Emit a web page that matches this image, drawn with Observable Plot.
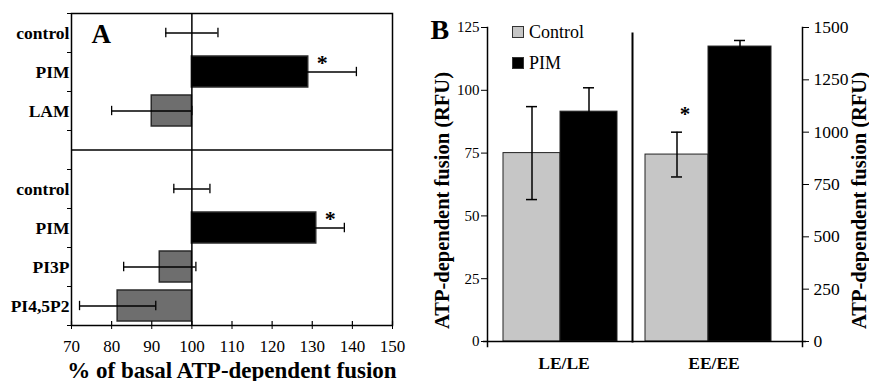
<!DOCTYPE html>
<html><head><meta charset="utf-8">
<script src="https://cdn.jsdelivr.net/npm/d3@7"></script>
<script src="https://cdn.jsdelivr.net/npm/@observablehq/plot@0.6"></script>
<style>
html,body{margin:0;padding:0;background:#fff;}
#root{position:relative;width:869px;height:381px;overflow:hidden;font-family:"Liberation Serif","Times New Roman",Times,"DejaVu Serif",serif;}
#root svg{position:absolute;top:0;}
#root svg text{font-family:"Liberation Serif","Times New Roman",Times,"DejaVu Serif",serif;}
.leg{position:absolute;font-size:18px;line-height:18px;display:flex;align-items:center;color:#000;}
.sw{width:12px;height:12px;border:1px solid #333;margin-right:5px;box-sizing:border-box;}
</style></head><body><div id="root"></div>
<script>
// ---------- Panel A data ----------
const labelsTop = ["control", "PIM", "LAM"];
const valuesTop = [100, 129, 90];
const errorsTop = [6.5, 12, 10];
const starsTop = [false, true, false];
const labelsBottom = ["control", "PIM", "PI3P", "PI4,5P2"];
const valuesBottom = [100, 131, 92, 81.5];
const errorsBottom = [4.5, 7, 9, 9.5];
const starsBottom = [false, true, false, false];
const xTicksA = [70, 80, 90, 100, 110, 120, 130, 140, 150];
const baselineA = 100;
const xTitleA = "% of basal ATP-dependent fusion";
const panelLabelA = "A";

// ---------- Panel B data ----------
const seriesB = ["Control", "PIM"];
const groupsB = ["LE/LE", "EE/EE"];
const leValues = [75, 91.5];
const leErrors = [18.5, 9.5];
const eeValues = [893, 1409];
const eeErrors = [107, 29];
const eeStars = [true, false];
const yTicksLeft = [0, 25, 50, 75, 100, 125];
const yTicksRight = [0, 250, 500, 750, 1000, 1250, 1500];
const yTitleB = "ATP-dependent fusion (RFU)";
const panelLabelB = "B";

const FONT = '"Liberation Serif", "Times New Roman", Times, "DejaVu Serif", serif';
const baseStyle = {fontFamily: FONT, fontSize: "17px", background: "transparent", color: "#000", maxWidth: "none", overflow: "visible"};
const root = document.getElementById("root");
const fmt = d => String(d);

// ---------- Panel A ----------
const gapSlots = 1;
const rowsA = [
  ...labelsTop.map((label, i) => ({label, value: valuesTop[i], err: errorsTop[i], star: starsTop[i], slot: i})),
  ...labelsBottom.map((label, i) => ({label, value: valuesBottom[i], err: errorsBottom[i], star: starsBottom[i], slot: labelsTop.length + gapSlots + i}))
];
const nSlots = labelsTop.length + gapSlots + labelsBottom.length;
const dividerSlot = labelsTop.length + gapSlots / 2;
const labelBySlot = new Map(rowsA.map(d => [d.slot + 0.5, d.label]));
const capsA = rowsA.flatMap(d => [{x: d.value - d.err, slot: d.slot}, {x: d.value + d.err, slot: d.slot}]);
const fillA = d => d.label === "PIM" ? "#000" : "#6e6e6e";

const plotA = Plot.plot({
  width: 440, height: 381,
  marginLeft: 71, marginRight: 48, marginTop: 13, marginBottom: 56,
  style: baseStyle,
  x: {domain: [70, 150]},
  y: {domain: [0, nSlots], reverse: true},
  marks: [
    Plot.rectX(rowsA.filter(d => d.value !== baselineA), {x1: baselineA, x2: "value", y1: "slot", y2: d => d.slot + 1, insetTop: 4, insetBottom: 4, fill: fillA, stroke: "#2a2a2a", strokeWidth: 1.5}),
    Plot.ruleY(rowsA, {y: d => d.slot + 0.5, x1: d => d.value - d.err, x2: d => d.value + d.err, stroke: "#000", strokeWidth: 1.3}),
    Plot.ruleX(capsA, {x: "x", y1: d => d.slot + 0.5 - 0.12, y2: d => d.slot + 0.5 + 0.12, stroke: "#000", strokeWidth: 1.3}),
    Plot.ruleX([baselineA], {stroke: "#000", strokeWidth: 1.5}),
    Plot.ruleY([dividerSlot], {stroke: "#000", strokeWidth: 1.5}),
    Plot.frame({stroke: "#000", strokeWidth: 1.5}),
    Plot.axisX({ticks: xTicksA, tickSize: 4, tickPadding: 10, tickFormat: fmt, fontSize: 17, label: null}),
    Plot.ruleX(xTicksA, {y1: nSlots, y2: nSlots - 0.1, stroke: "#000", strokeWidth: 1.2}),
    Plot.axisY({ticks: d3.range(0, nSlots + 1), tickSize: 4, tickFormat: () => "", label: null}),
    Plot.axisY({ticks: rowsA.map(d => d.slot + 0.5), tickSize: 0, tickPadding: 2, tickFormat: v => labelBySlot.get(v), fontWeight: "bold", fontSize: 17.5, label: null}),
    Plot.text(rowsA.filter(d => d.star), {x: "value", y: d => d.slot + 0.5, text: () => "*", dx: 14, dy: -2, lineAnchor: "bottom", fontSize: 22, fontWeight: "bold"}),
    Plot.text([panelLabelA], {frameAnchor: "top-left", dx: 20, dy: 29, lineAnchor: "bottom", textAnchor: "start", fontSize: 27, fontWeight: "bold"}),
    Plot.text([xTitleA], {frameAnchor: "bottom", dy: 52, lineAnchor: "bottom", textAnchor: "middle", fontSize: 23, fontWeight: "bold"})
  ]
});
plotA.style.left = "0px";
root.appendChild(plotA);

// ---------- Panel B ----------
const fillB = d => d.series === "PIM" ? "#000" : "#c6c6c6";
const rowsLE = seriesB.map((s, i) => ({series: s, value: leValues[i], err: leErrors[i]}));
const rowsEE = seriesB.map((s, i) => ({series: s, value: eeValues[i], err: eeErrors[i], star: eeStars[i]}));
const capsOf = rows => rows.flatMap(d => [{series: d.series, y: d.value - d.err}, {series: d.series, y: d.value + d.err}]);

const plotBL = Plot.plot({
  width: 205, height: 381,
  marginLeft: 57, marginRight: 3, marginTop: 27, marginBottom: 40,
  style: baseStyle,
  x: {domain: seriesB, range: [72, 187], padding: 0, axis: null},
  y: {domain: [0, 125]},
  marks: [
    Plot.barY(rowsLE, {x: "series", y: "value", fill: fillB, stroke: "#222", strokeWidth: 1}),
    Plot.ruleX(rowsLE, {x: "series", y1: d => d.value - d.err, y2: d => d.value + d.err, stroke: "#000", strokeWidth: 1.5}),
    Plot.tickY(capsOf(rowsLE), {x: "series", y: "y", insetLeft: 23, insetRight: 23, stroke: "#000", strokeWidth: 1.5}),
    Plot.ruleY([0], {insetLeft: -4, stroke: "#000", strokeWidth: 1.5}),
    Plot.frame({anchor: "left", insetBottom: -5, stroke: "#000", strokeWidth: 1.5}),
    Plot.frame({anchor: "right", insetTop: 6, stroke: "#000", strokeWidth: 2}),
    Plot.axisY({ticks: yTicksLeft, tickSize: 6, tickPadding: 2, tickFormat: fmt, fontSize: 15, label: null}),
    Plot.text([groupsB[0]], {frameAnchor: "bottom", dx: 4, dy: 27, textAnchor: "middle", fontSize: 17.5, fontWeight: "bold"}),
    Plot.text([panelLabelB], {frameAnchor: "top-left", dx: -57, dy: 11, textAnchor: "start", lineAnchor: "bottom", fontSize: 28, fontWeight: "bold"}),
    Plot.text([yTitleB], {frameAnchor: "left", dx: -39, dy: 16, rotate: -90, textAnchor: "middle", lineAnchor: "bottom", fontSize: 20.5, fontWeight: "bold"})
  ]
});
plotBL.style.left = "430px";
root.appendChild(plotBL);

const plotBR = Plot.plot({
  width: 237, height: 381,
  marginLeft: 0, marginRight: 67, marginTop: 27, marginBottom: 40,
  style: baseStyle,
  x: {domain: seriesB, range: [13, 139], padding: 0, axis: null},
  y: {domain: [0, 1500]},
  marks: [
    Plot.barY(rowsEE, {x: "series", y: "value", fill: fillB, stroke: "#222", strokeWidth: 1}),
    Plot.ruleX(rowsEE, {x: "series", y1: d => d.value - d.err, y2: d => d.value + d.err, stroke: "#000", strokeWidth: 1.5}),
    Plot.tickY(capsOf(rowsEE), {x: "series", y: "y", insetLeft: 26, insetRight: 26, stroke: "#000", strokeWidth: 1.5}),
    Plot.ruleY([0], {insetRight: -4, stroke: "#000", strokeWidth: 1.5}),
    Plot.frame({anchor: "right", insetBottom: -5, stroke: "#000", strokeWidth: 1.5}),
    Plot.axisY({anchor: "right", ticks: yTicksRight, tickSize: 6, tickPadding: 5, tickFormat: fmt, fontSize: 17.5, label: null}),
    Plot.text(rowsEE.filter(d => d.star), {x: "series", y: d => d.value + d.err, text: () => "*", dx: 8, dy: -11, lineAnchor: "bottom", fontSize: 21, fontWeight: "bold"}),
    Plot.text([groupsB[1]], {frameAnchor: "bottom", dx: -3.5, dy: 27, textAnchor: "middle", fontSize: 17.5, fontWeight: "bold"}),
    Plot.text([yTitleB], {frameAnchor: "right", dx: 63, dy: 16, rotate: -90, textAnchor: "middle", lineAnchor: "bottom", fontSize: 20.5, fontWeight: "bold"})
  ]
});
plotBR.style.left = "632px";
root.appendChild(plotBR);

// ---------- Legend ----------
const legendTops = [23, 54];
seriesB.forEach((s, i) => {
  const div = document.createElement("div");
  div.className = "leg";
  div.style.left = "512px";
  div.style.top = legendTops[i] + "px";
  const sw = document.createElement("span");
  sw.className = "sw";
  sw.style.background = fillB({series: s});
  div.appendChild(sw);
  div.appendChild(document.createTextNode(s));
  root.appendChild(div);
});
</script></body></html>
